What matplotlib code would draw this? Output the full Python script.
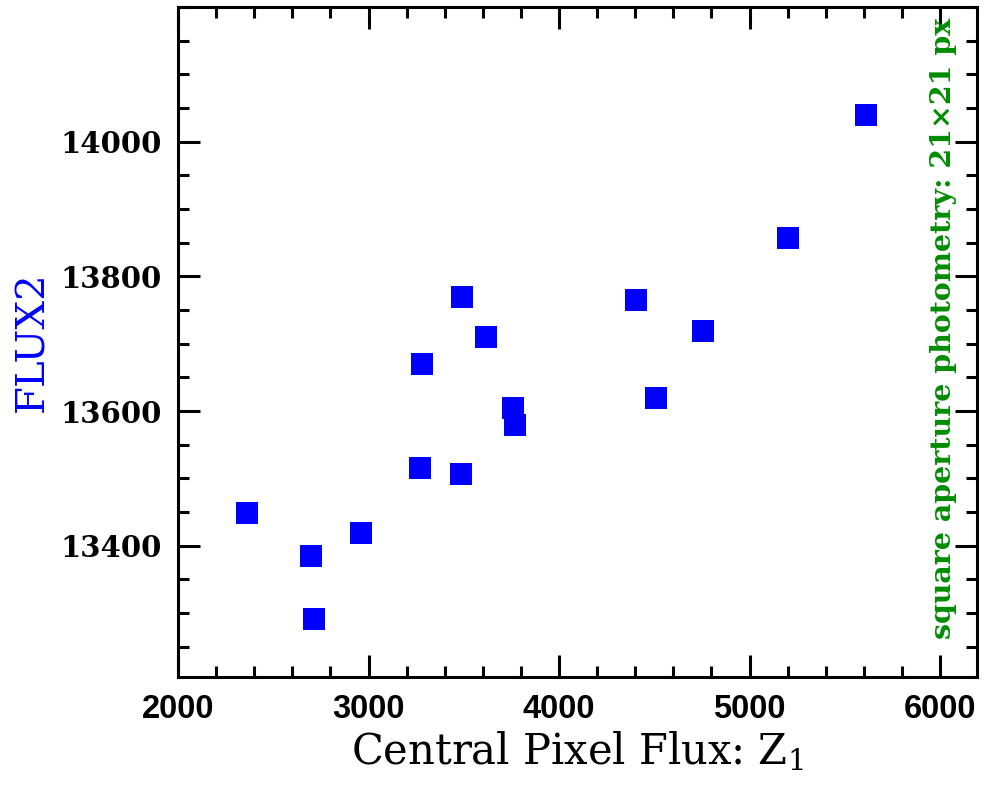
import matplotlib
matplotlib.use("Agg")
import matplotlib.pyplot as plt
from matplotlib.ticker import MultipleLocator

# central pixel flux (x) vs FLUX2 (y)
z1 = [2360, 2698, 2715, 2959, 3270, 3279, 3488, 3489, 3617,
      3757, 3771, 4404, 4509, 4756, 5202, 5612]
flux2 = [13448, 13385, 13291, 13419, 13515, 13670, 13507, 13769, 13710,
         13605, 13579, 13765, 13620, 13719, 13857, 14039]

x_ticks = [2000, 3000, 4000, 5000, 6000]
y_ticks = [13400, 13600, 13800, 14000]

plt.rcParams["mathtext.fontset"] = "custom"
plt.rcParams["mathtext.rm"] = "DejaVu Serif"
plt.rcParams["mathtext.it"] = "DejaVu Serif"

fig = plt.figure(figsize=(9.84, 7.85), dpi=100)
ax = fig.add_axes([0.1809, 0.1376, 0.812, 0.8535])

ax.plot(z1, flux2, linestyle="none", marker="s", markersize=15.8,
        color="#0000ff", markeredgewidth=0)

ax.set_xlim(2000, 6194)
ax.set_ylim(13205, 14200)

ax.set_xticks(x_ticks)
ax.set_yticks(y_ticks)
ax.xaxis.set_minor_locator(MultipleLocator(200))
ax.yaxis.set_minor_locator(MultipleLocator(50))

ax.tick_params(which="both", direction="in", top=True, right=True,
               width=2.2, colors="black")
ax.tick_params(which="major", length=16)
ax.tick_params(which="minor", length=8)
ax.tick_params(axis="x", pad=12)
ax.tick_params(axis="y", pad=12)
for spine in ax.spines.values():
    spine.set_linewidth(2.2)

for lab in ax.get_xticklabels():
    lab.set_fontfamily("Liberation Sans")
    lab.set_fontweight("bold")
    lab.set_fontsize(23.5)
for lab in ax.get_yticklabels():
    lab.set_fontfamily("DejaVu Serif")
    lab.set_fontweight("bold")
    lab.set_fontsize(21)

ax.set_xlabel(r"Central Pixel Flux: Z$_1$", fontfamily="DejaVu Serif",
              fontsize=30, labelpad=4)
ax.set_ylabel("FLUX2", fontfamily="DejaVu Serif", fontsize=29,
              color="#0000ff", labelpad=6)

ax.text(0.9575, 0.521, "square aperture photometry: 21\u00d721 px",
        transform=ax.transAxes, rotation=90, ha="center", va="center",
        fontfamily="DejaVu Serif", fontweight="bold", fontsize=20.5,
        color="#008c00")

fig.savefig("out.png", dpi=100)
